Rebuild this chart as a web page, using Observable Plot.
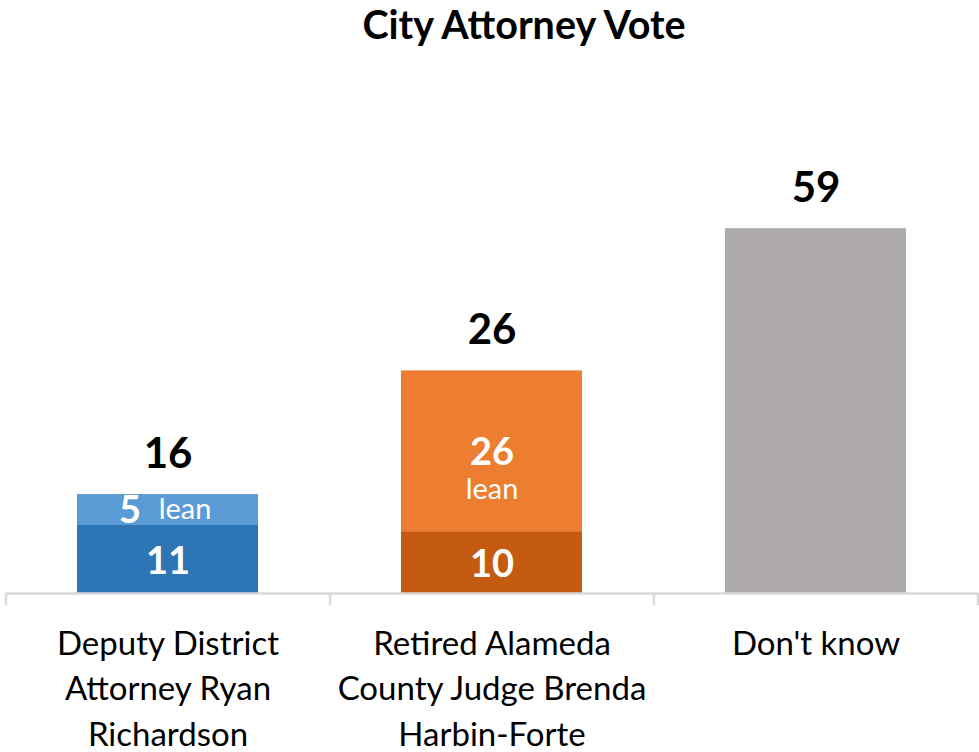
<!DOCTYPE html>
<html>
<head>
<meta charset="utf-8">
<script src="https://cdn.jsdelivr.net/npm/d3@7"></script>
<script src="https://cdn.jsdelivr.net/npm/@observablehq/plot@0.6"></script>
<style>
  html, body { margin: 0; padding: 0; background: #fff; }
  #wrap { position: relative; width: 979px; height: 752px; }
  #title { position: absolute; top: 0px; left: 0; width: 979px; box-sizing: border-box; padding-left: 69px;
           text-align: center; font: bold 39.5px Lato, sans-serif; line-height: normal; color: #000; }
</style>
</head>
<body>
<div id="wrap">
  <div id="title">City Attorney Vote</div>
  <div id="chart"></div>
</div>
<script>
// ---- data ----
const categories = [
  "Deputy District\nAttorney Ryan\nRichardson",
  "Retired Alameda\nCounty Judge Brenda\nHarbin-Forte",
  "Don't know"
];
const firm = [11, 10, 59];
const lean = [5, 26, 0];
const totalLabels = ["16", "26", "59"];
const leanWord = "lean";

// ---- derived tables ----
const firmColors = ["#2E75B6", "#C55A11", "#AEAAAA"];
const leanColors = ["#5B9BD5", "#ED7D31", "#AEAAAA"];

const segments = [];
categories.forEach((c, i) => segments.push({category: c, part: "firm", value: firm[i], fill: firmColors[i]}));
categories.forEach((c, i) => { if (lean[i] > 0) segments.push({category: c, part: "lean", value: lean[i], fill: leanColors[i]}); });

const firmLabels = categories.map((c, i) => ({category: c, y: firm[i] / 2, text: String(firm[i])})).filter((d, i) => lean[i] > 0);
const leanLabels = categories.map((c, i) => ({category: c, idx: i, y: firm[i] + lean[i] / 2, text: String(lean[i])})).filter(d => lean[d.idx] > 0);
const totals = categories.map((c, i) => ({category: c, y: firm[i] + lean[i], text: totalLabels[i]}));

const W = 979, H = 752, mL = 6, mR = 1;
const half = (W - mL - mR) / categories.length / 2;
const font = "Lato, sans-serif";

const chart = Plot.plot({
  width: W,
  height: H,
  marginTop: 222,
  marginBottom: 159,
  marginLeft: mL,
  marginRight: mR,
  style: {fontFamily: font, background: "transparent"},
  x: {domain: categories, paddingInner: 0.44, paddingOuter: 0.22, axis: null},
  y: {domain: [0, 60], axis: null},
  color: {type: "identity"},
  marks: [
    Plot.barY(segments, Plot.stackY({x: "category", y: "value", fill: "fill"})),
    Plot.ruleY([0], {stroke: "#D9D9D9", strokeWidth: 2.5}),
    Plot.ruleX(categories, {x: d => d, dx: -half, y1: 0, y2: 0, insetBottom: -12.5, stroke: "#D9D9D9", strokeWidth: 2.5}),
    Plot.ruleX(categories.slice(-1), {x: d => d, dx: half, y1: 0, y2: 0, insetBottom: -12.5, stroke: "#D9D9D9", strokeWidth: 2.5}),
    // totals above bars
    Plot.text(totals, {x: "category", y: "y", text: "text", dy: -40, fontSize: 42, fontWeight: "bold", fill: "#000", lineAnchor: "middle"}),
    // firm values inside bars
    Plot.text(firmLabels, {x: "category", y: "y", text: "text", dy: 2, fontSize: 38, fontWeight: "bold", fill: "#fff", lineAnchor: "middle"}),
    // lean values: first bar side by side
    Plot.text(leanLabels.filter(d => d.idx === 0), {x: "category", y: "y", text: "text", dx: -38, dy: 1, fontSize: 38, fontWeight: "bold", fill: "#fff", lineAnchor: "middle"}),
    Plot.text(leanLabels.filter(d => d.idx === 0), {x: "category", y: "y", text: () => leanWord, dx: 17, dy: 0, fontSize: 29, fill: "#fff", lineAnchor: "middle"}),
    // lean values: second bar stacked
    Plot.text(leanLabels.filter(d => d.idx === 1), {x: "category", y: "y", text: "text", dy: 2, fontSize: 38, fontWeight: "bold", fill: "#fff", lineAnchor: "middle"}),
    Plot.text(leanLabels.filter(d => d.idx === 1), {x: "category", y: "y", text: () => leanWord, dy: 38, fontSize: 29, fill: "#fff", lineAnchor: "middle"}),
    // category labels
    Plot.text(categories, {x: d => d, y: () => 0, text: d => d, dy: 29, lineAnchor: "top", fontSize: 33, lineHeight: 1.379, fill: "#000"})
  ]
});
document.getElementById("chart").appendChild(chart);
</script>
</body>
</html>
